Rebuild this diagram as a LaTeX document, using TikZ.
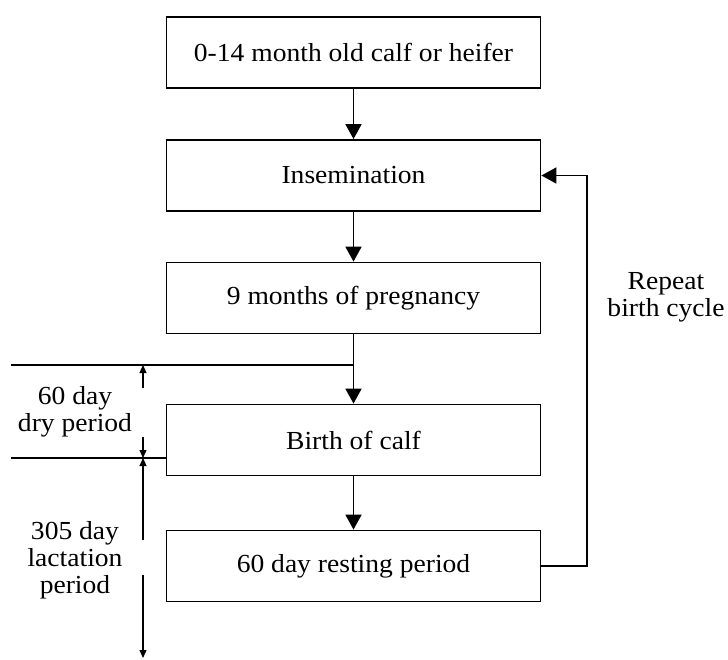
\documentclass[tikz,border=0pt]{standalone}
\usepackage{fontspec}
\setmainfont[FakeStretch=1.06]{Liberation Serif}
\usetikzlibrary{arrows.meta}

\begin{document}
\begin{tikzpicture}[x=0.5pt,y=-0.5pt,line width=0.9pt,
    stage/.style={draw,minimum width=187pt,minimum height=35.5pt,inner sep=0pt},
    flow/.style={-{Triangle[length=7.5pt,width=8pt]}},
    dim/.style={line width=0.6pt},
    tip/.style={dim,-{Triangle[length=4pt,width=3.5pt]}},
    every node/.style={font=\fontsize{13}{13.5}\selectfont,align=center}]
          \useasboundingbox (0,0) rectangle (728,659);

          \node[stage] (calf)   at (353.5,52.5) {0-14 month old calf or heifer};
          \node[stage] (insem)  at (353.5,175.5) {Insemination};
          \node[stage] (preg)   at (353.5,298) {9 months of pregnancy};
          \node[stage] (birth)  at (353.5,440) {Birth of calf};
          \node[stage] (rest)   at (353.5,566) {60 day resting period};

          \draw[flow] (calf) -- (insem);
          \draw[flow] (insem) -- (preg);
          \draw[flow] (preg) -- (birth);
          \draw[flow] (birth) -- (rest);

          % repeat loop
          \coordinate (back) at (587,175.5);
          \draw[flow] (rest.east) -| (back) -- (insem.east);
          \node (repeat) at (666,297) {Repeat\\birth cycle};

          % dry and lactation periods
          \coordinate (dryA) at (11,365);
          \coordinate (dryB) at (11,458);
          \draw[dim] (dryA) -- (dryA -| preg.south);
          \draw[dim] (dryB) -- (dryB -| birth.west);
          \node (dry) at (75,412) {60 day\\dry period};
          \node (lact) at (75,560) {305 day\\lactation\\period};

          \draw[tip] (143,388) -- (143,365);
          \draw[tip] (143,437) -- (143,458);
          \draw[tip] (143,540) -- (143,458);
          \draw[tip] (143,575) -- (143,658);

          \end{tikzpicture}
\end{document}
